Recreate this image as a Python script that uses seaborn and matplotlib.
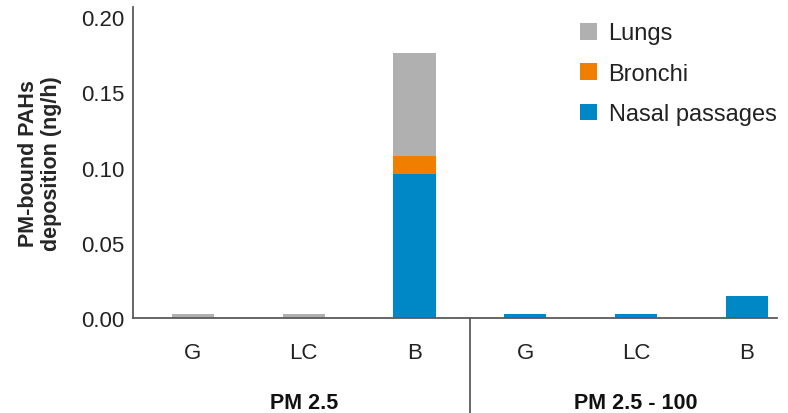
import matplotlib
matplotlib.use("Agg")
import matplotlib.pyplot as plt
from matplotlib.patches import Patch
import seaborn as sns
import pandas as pd
import numpy as np

# Deposition of PM-bound PAHs (ng/h) by respiratory region
groups = ["PM 2.5", "PM 2.5", "PM 2.5", "PM 2.5 - 100", "PM 2.5 - 100", "PM 2.5 - 100"]
sites = ["G", "LC", "B", "G", "LC", "B"]
nasal = [0.0, 0.0, 0.096, 0.0027, 0.0027, 0.0148]
bronchi = [0.0, 0.0, 0.012, 0.0, 0.0, 0.0]
lungs = [0.0027, 0.0027, 0.068, 0.0, 0.0, 0.0]
group_names = ["PM 2.5", "PM 2.5 - 100"]
yticks = [0.00, 0.05, 0.10, 0.15, 0.20]

colors = {"Lungs": "#b0b0b0", "Bronchi": "#f07f00", "Nasal passages": "#0088c6"}

sns.set_theme(style="white")
plt.rcParams["font.family"] = ["Liberation Sans", "DejaVu Sans"]

df = pd.DataFrame({"group": groups, "site": sites,
                   "nasal": nasal, "bronchi": bronchi, "lungs": lungs})
df["key"] = df["group"] + " " + df["site"]
df["nb"] = df["nasal"] + df["bronchi"]
df["total"] = df["nb"] + df["lungs"]
order = list(df["key"])

fig = plt.figure(figsize=(7.88, 4.14), dpi=100)
ax = fig.add_axes([0.1688, 0.2287, 0.986 - 0.1688, 0.9807 - 0.2287])

# stacked bars drawn back to front as cumulative totals
for col, name in [("total", "Lungs"), ("nb", "Bronchi"), ("nasal", "Nasal passages")]:
    sns.barplot(data=df, x="key", y=col, order=order, color=colors[name],
                width=0.38, saturation=1, errorbar=None, ax=ax,
                linewidth=0, edgecolor="none")

ax.set_xlim(-0.54, 5.27)
ax.set_ylim(0, 0.2066)
ax.set_yticks(yticks)
ax.set_yticklabels([f"{v:.2f}" for v in yticks])
ax.set_xticks(range(len(sites)))
ax.set_xticklabels(sites)
ax.set_xlabel("")
ax.set_ylabel("PM-bound PAHs\ndeposition (ng/h)", fontsize=15.5,
              fontweight="bold", labelpad=14, linespacing=1.1)

ax.tick_params(axis="y", length=0, pad=6, labelsize=16, labelcolor="#222222")
ax.tick_params(axis="x", length=0, pad=17, labelsize=16, labelcolor="#222222")

spine_col = "#5a5a5a"
for s in ["top", "right"]:
    ax.spines[s].set_visible(False)
for s in ["left", "bottom"]:
    ax.spines[s].set_color(spine_col)
    ax.spines[s].set_linewidth(1.3)

# group separator and group labels below the axis
ax.plot([2.5, 2.5], [0, -0.32], color=spine_col, lw=1.3, clip_on=False,
        transform=ax.get_xaxis_transform())
for i, g in enumerate(group_names):
    ax.text(1 + 3 * i, -0.27, g, transform=ax.get_xaxis_transform(),
            ha="center", va="center", fontsize=15.5, fontweight="bold",
            color="#111111")

handles = [Patch(facecolor=colors[n], edgecolor="none", label=n)
           for n in ["Lungs", "Bronchi", "Nasal passages"]]
leg = ax.legend(handles=handles, loc="upper left", bbox_to_anchor=(0.67, 1.0),
                frameon=False, fontsize=17, handlelength=0.72, handleheight=0.72,
                handletextpad=0.5, labelspacing=0.78, borderaxespad=0.25)
for t in leg.get_texts():
    t.set_color("#222222")

fig.savefig("out.png", dpi=100)
